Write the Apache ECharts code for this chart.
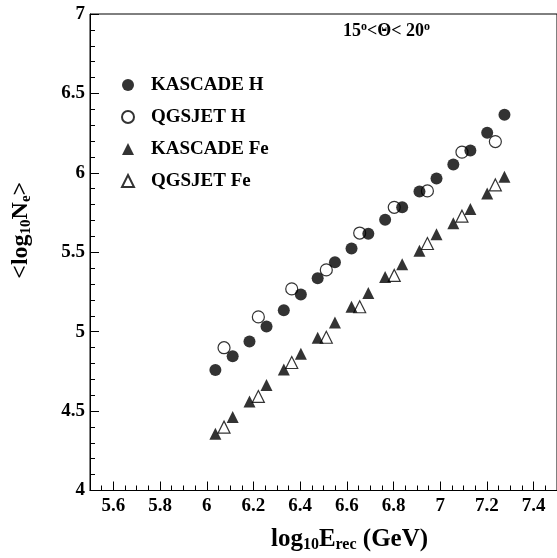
<!DOCTYPE html>
<html>
<head>
<meta charset="utf-8">
<script src="https://cdn.jsdelivr.net/npm/echarts@6/dist/echarts.min.js"></script>
<style>html,body{margin:0;padding:0;background:#fff;}#c{width:557px;height:558px;}</style>
</head>
<body>
<div id="c"></div>
<script>
// ---- data ----
const kascadeE = [6.037, 6.111, 6.183, 6.256, 6.330, 6.403, 6.475, 6.549, 6.620, 6.692, 6.764, 6.837, 6.911, 6.984, 7.056, 7.129, 7.201, 7.275];
const kascadeH = [4.758, 4.845, 4.938, 5.033, 5.135, 5.234, 5.337, 5.437, 5.524, 5.617, 5.704, 5.783, 5.882, 5.965, 6.052, 6.141, 6.253, 6.366];
const kascadeFe = [4.358, 4.462, 4.561, 4.665, 4.762, 4.861, 4.961, 5.058, 5.157, 5.244, 5.344, 5.424, 5.509, 5.613, 5.683, 5.772, 5.870, 5.975];
const qgsjetE = [6.074, 6.221, 6.364, 6.512, 6.655, 6.803, 6.945, 7.093, 7.236];
const qgsjetH = [4.899, 5.093, 5.269, 5.389, 5.621, 5.783, 5.886, 6.130, 6.197];
const qgsjetFe = [4.399, 4.592, 4.806, 4.965, 5.157, 5.354, 5.555, 5.727, 5.924];
const xMajorTicks = [5.6, 5.8, 6.0, 6.2, 6.4, 6.6, 6.8, 7.0, 7.2, 7.4];
const xMinorTicks = [5.5, 5.55, 5.6, 5.65, 5.7, 5.75, 5.8, 5.85, 5.9, 5.95, 6.0, 6.05, 6.1, 6.15, 6.2, 6.25, 6.3, 6.35, 6.4, 6.45, 6.5, 6.55, 6.6, 6.65, 6.7, 6.75, 6.8, 6.85, 6.9, 6.95, 7.0, 7.05, 7.1, 7.15, 7.2, 7.25, 7.3, 7.35, 7.4, 7.45, 7.5];
const seriesNames = ['KASCADE H', 'QGSJET H', 'KASCADE Fe', 'QGSJET Fe'];

const FONT = '"Liberation Serif", "Times New Roman", serif';
const pairs = (xs, ys) => xs.map((x, i) => [x, ys[i]]);

const chart = echarts.init(document.getElementById('c'), null, {renderer: 'canvas'});
const xRange = {min: 5.5, max: 7.5};
const option = {
  animation: false,
  backgroundColor: '#fff',
  grid: {left: 75, right: -3, top: 14, bottom: 61, show: true, borderColor: '#000', borderWidth: 1, backgroundColor: 'transparent'},
  title: {
    left: 338, top: 16,
    text: '{a|15}{u|o}{a|<Θ< 20}{u|o}',
    textStyle: {
      rich: {
        a: {fontFamily: FONT, fontWeight: 'bold', fontSize: 18, color: '#000', lineHeight: 20},
        u: {fontFamily: FONT, fontWeight: 'bold', fontSize: 12, color: '#000', lineHeight: 20, padding: [0, 0, 9, 0]}
      }
    }
  },
  legend: {
    orient: 'vertical', left: 116, top: 70,
    itemWidth: 12, itemHeight: 12, itemGap: 12,
    data: seriesNames,
    textStyle: {fontFamily: FONT, fontWeight: 'bold', fontSize: 19, color: '#000', lineHeight: 20, padding: [0, 0, 0, 12]}
  },
  xAxis: [
    {
      type: 'value', min: xRange.min, max: xRange.max,
      name: '{a|log}{s|10}{a|E}{s|rec}{a| (GeV)}',
      nameLocation: 'middle', nameGap: 36,
      nameTextStyle: {
        padding: [0, 0, 0, 52],
        rich: {
          a: {fontFamily: FONT, fontWeight: 'bold', fontSize: 25, color: '#000', lineHeight: 26},
          s: {fontFamily: FONT, fontWeight: 'bold', fontSize: 16, color: '#000', lineHeight: 18, padding: [11, 0, 0, 0]}
        }
      },
      axisLine: {show: true, onZero: false, lineStyle: {color: '#000', width: 1}},
      axisTick: {show: true, inside: true, length: 9, customValues: xMajorTicks, lineStyle: {color: '#000'}},
      axisLabel: {show: true, customValues: xMajorTicks, margin: 6, fontFamily: FONT, fontWeight: 'bold', fontSize: 19, color: '#000'},
      splitLine: {show: false}
    },
    {
      type: 'value', min: xRange.min, max: xRange.max, position: 'bottom',
      axisLine: {show: false},
      axisTick: {show: true, inside: true, length: 5, customValues: xMinorTicks, lineStyle: {color: '#000'}},
      axisLabel: {show: false},
      splitLine: {show: false}
    }
  ],
  yAxis: {
    type: 'value', min: 4, max: 7, interval: 0.5,
    name: '{a|<log}{s|10}{a|N}{s|e}{a|>}',
    nameLocation: 'middle', nameGap: 56, nameRotate: 90,
    nameTextStyle: {
      padding: [0, 0, 0, 44],
      rich: {
        a: {fontFamily: FONT, fontWeight: 'bold', fontSize: 24, color: '#000', lineHeight: 26},
        s: {fontFamily: FONT, fontWeight: 'bold', fontSize: 15, color: '#000', lineHeight: 17, padding: [11, 0, 0, 0]}
      }
    },
    axisLine: {show: true, onZero: false, lineStyle: {color: '#000', width: 1}},
    axisTick: {show: true, inside: true, length: 9, lineStyle: {color: '#000'}},
    minorTick: {show: true, splitNumber: 5, length: 5, lineStyle: {color: '#000'}},
    axisLabel: {margin: 5, fontFamily: FONT, fontWeight: 'bold', fontSize: 19, color: '#000', formatter: v => String(v)},
    splitLine: {show: false},
    minorSplitLine: {show: false}
  },
  series: [
    {name: 'QGSJET H', type: 'scatter', symbol: 'circle', symbolSize: 12, z: 2, data: pairs(qgsjetE, qgsjetH),
     itemStyle: {color: 'rgba(255,255,255,0)', borderColor: '#000', borderWidth: 1.2}},
    {name: 'QGSJET Fe', type: 'scatter', symbol: 'triangle', symbolSize: 12, z: 2, data: pairs(qgsjetE, qgsjetFe),
     itemStyle: {color: 'rgba(255,255,255,0)', borderColor: '#000', borderWidth: 1.2}},
    {name: 'KASCADE H', type: 'scatter', symbol: 'circle', symbolSize: 12, z: 3, data: pairs(kascadeE, kascadeH),
     itemStyle: {color: '#000'}},
    {name: 'KASCADE Fe', type: 'scatter', symbol: 'triangle', symbolSize: 12, z: 3, data: pairs(kascadeE, kascadeFe),
     itemStyle: {color: '#000'}}
  ]
};
chart.setOption(option);
</script>
</body>
</html>
